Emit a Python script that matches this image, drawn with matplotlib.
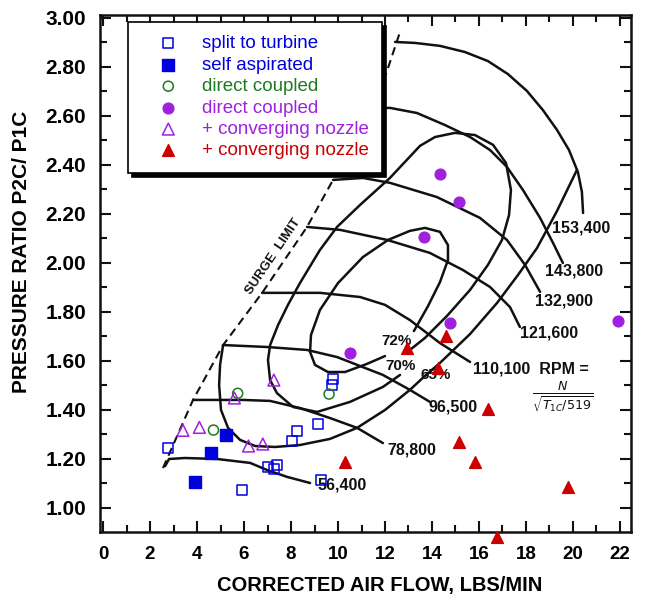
import matplotlib
matplotlib.use('Agg')
import matplotlib.pyplot as plt
from matplotlib.ticker import MultipleLocator

plt.rcParams['font.family'] = ['Liberation Sans', 'DejaVu Sans']

# --- measured points (corrected air flow lbs/min, pressure ratio) ---
split_x = [2.75, 8.26, 8.06, 9.13, 7.04, 7.26, 7.40, 5.93, 9.28, 9.80, 9.76]
split_y = [1.244, 1.314, 1.273, 1.343, 1.166, 1.158, 1.176, 1.072, 1.114, 1.528, 1.501]

selfasp_x = [5.23, 4.61, 3.93]
selfasp_y = [1.297, 1.223, 1.105]

direct_open_x = [5.73, 4.70, 9.62]
direct_open_y = [1.468, 1.318, 1.465]

direct_fill_x = [10.51, 14.78, 21.93, 14.35, 15.13, 13.65]
direct_fill_y = [1.631, 1.756, 1.763, 2.363, 2.250, 2.105]

nozzle_open_x = [7.27, 5.59, 3.40, 4.10, 6.19, 6.80]
nozzle_open_y = [1.522, 1.449, 1.317, 1.329, 1.253, 1.261]

nozzle_fill_x = [12.94, 14.60, 14.25, 16.38, 15.13, 15.82, 10.30, 19.80, 16.75]
nozzle_fill_y = [1.652, 1.700, 1.570, 1.405, 1.268, 1.189, 1.189, 1.087, 0.883]

# --- compressor map ---
surge_x = [2.55, 3.83, 5.11, 6.77, 8.68, 9.79, 10.94, 12.00, 12.64]
surge_y = [1.163, 1.441, 1.665, 1.878, 2.147, 2.339, 2.551, 2.759, 2.943]

speed_labels = ['56,400', '78,800', '96,500', '110,100  RPM =',
                '121,600', '132,900', '143,800', '153,400']
speed_x = [
    [2.64, 2.81, 3.49, 4.85, 6.26, 6.98, 7.83, 8.81],
    [3.83, 5.96, 7.11, 8.38, 9.66, 10.81, 11.91],
    [5.11, 6.98, 8.68, 9.96, 11.91, 13.06, 13.91],
    [6.77, 9.23, 10.94, 12.00, 13.06, 14.34, 15.62],
    [8.68, 10.09, 12.09, 13.91, 15.32, 16.47, 17.32, 17.74],
    [9.79, 11.06, 12.21, 14.21, 16.04, 17.19, 17.96, 18.60],
    [11.32, 12.21, 13.36, 14.55, 15.62, 16.47, 17.19, 17.87, 18.60, 19.15, 19.57],
    [12.43, 13.28, 14.34, 15.40, 16.38, 17.23, 18.04, 18.72, 19.32, 19.83, 20.21, 20.38, 20.43],
]
speed_y = [
    [1.171, 1.200, 1.204, 1.200, 1.184, 1.155, 1.127, 1.102],
    [1.441, 1.441, 1.437, 1.408, 1.367, 1.327, 1.265],
    [1.665, 1.657, 1.645, 1.616, 1.543, 1.482, 1.433],
    [1.878, 1.878, 1.861, 1.829, 1.767, 1.673, 1.596],
    [2.147, 2.135, 2.094, 2.041, 1.971, 1.902, 1.820, 1.739],
    [2.339, 2.347, 2.327, 2.269, 2.184, 2.094, 1.992, 1.882],
    [2.629, 2.633, 2.612, 2.563, 2.514, 2.461, 2.392, 2.298, 2.184, 2.082, 2.000],
    [2.902, 2.898, 2.886, 2.861, 2.824, 2.771, 2.702, 2.624, 2.543, 2.461, 2.371, 2.290, 2.204],
]
speed_label_x = [9.11, 12.09, 13.87, 15.74, 17.74, 18.38, 18.81, 19.11]
speed_label_y = [1.094, 1.237, 1.412, 1.567, 1.714, 1.845, 1.967, 2.143]

eff72_x = [13.23, 13.83, 14.34, 14.68, 14.68, 14.34, 13.70, 13.06, 12.13, 11.06,
           10.00, 9.23, 8.85, 8.81, 9.02, 9.57, 10.30, 11.23, 12.00]
eff72_y = [1.722, 1.824, 1.922, 2.012, 2.073, 2.127, 2.143, 2.131, 2.094, 2.024,
           1.918, 1.808, 1.706, 1.637, 1.584, 1.555, 1.555, 1.588, 1.620]

eff70_x = [13.06, 13.70, 14.64, 15.62, 16.38, 16.98, 17.28, 17.36, 17.15, 16.60,
           15.83, 14.98, 14.13, 13.49, 12.21, 10.94, 9.96, 9.23, 8.38, 7.87,
           7.45, 7.11, 7.02, 7.11, 7.40, 8.09, 9.11, 10.51, 11.91, 12.64]
eff70_y = [1.645, 1.694, 1.784, 1.890, 1.992, 2.094, 2.196, 2.298, 2.408, 2.482,
           2.522, 2.531, 2.514, 2.478, 2.347, 2.237, 2.147, 2.053, 1.918, 1.829,
           1.747, 1.665, 1.604, 1.522, 1.469, 1.412, 1.392, 1.433, 1.494, 1.543]

eff65_x = [5.11, 4.98, 4.94, 5.02, 5.32, 5.83, 6.47, 7.32, 8.38, 9.66, 10.81,
           12.00, 13.06, 13.70, 14.34, 15.62, 16.77, 17.66, 18.47, 19.32, 20.17]
eff65_y = [1.665, 1.584, 1.502, 1.400, 1.327, 1.278, 1.253, 1.249, 1.257, 1.282, 1.327,
           1.400, 1.482, 1.539, 1.592, 1.710, 1.837, 1.951, 2.061, 2.212, 2.380]

eff_labels = ['72%', '70%', '65%']
eff_label_x = [12.51, 12.68, 14.17]
eff_label_y = [1.682, 1.580, 1.543]

blue = '#0000DD'
green = '#1E7A1E'
purple = '#A020E0'
red = '#CC0000'

fig = plt.figure(figsize=(6.45, 6.01), dpi=100)
ax = fig.add_axes([100 / 645, 69 / 601, 531 / 645, 517 / 601])
ax.set_xlim(-0.13, 22.47)
ax.set_ylim(0.902, 3.012)

# map lines
line_kw = dict(color='#111111', lw=1.8, solid_joinstyle='round',
               solid_capstyle='round', zorder=2)
ax.plot(surge_x, surge_y, color='#111111', lw=1.5, ls=(0, (4, 2.5)), zorder=2)
for xs, ys in zip(speed_x, speed_y):
    ax.plot(xs, ys, **line_kw)
ax.plot(eff72_x, eff72_y, **line_kw)
ax.plot(eff70_x, eff70_y, **line_kw)
ax.plot(eff65_x, eff65_y, **line_kw)

lab_kw = dict(fontsize=11.5, fontweight='bold', color='#111111', zorder=3)
for lab, lx, ly in zip(speed_labels, speed_label_x, speed_label_y):
    ax.text(lx, ly, lab, ha='left', va='center', **lab_kw)
for lab, lx, ly in zip(eff_labels, eff_label_x, eff_label_y):
    ax.text(lx, ly, lab, ha='center', va='center', fontsize=11,
            fontweight='bold', color='#111111', zorder=3)
ax.text(19.57, 1.453, r'$\frac{N}{\sqrt{T_{1C}/519}}$', ha='center', va='center',
        fontsize=13, color='#111111', zorder=3)
ax.text(7.23, 2.024, 'SURGE  LIMIT', rotation=56, ha='center', va='center',
        fontsize=9.5, fontweight='bold', color='#111111', zorder=3)

# measured points
ax.scatter(split_x, split_y, s=52, marker='s', facecolors='none', edgecolors=blue,
           linewidths=1.1, label='split to turbine', zorder=4, clip_on=False)
ax.scatter(selfasp_x, selfasp_y, s=64, marker='s', color=blue,
           label='self aspirated', zorder=4, clip_on=False)
ax.scatter(direct_open_x, direct_open_y, s=52, marker='o', facecolors='none',
           edgecolors=green, linewidths=1.1, label='direct coupled', zorder=4, clip_on=False)
ax.scatter(direct_fill_x, direct_fill_y, s=60, marker='o', color=purple,
           label='direct coupled', zorder=4, clip_on=False)
ax.scatter(nozzle_open_x, nozzle_open_y, s=72, marker='^', facecolors='none',
           edgecolors=purple, linewidths=1.1, label='+ converging nozzle', zorder=4, clip_on=False)
ax.scatter(nozzle_fill_x, nozzle_fill_y, s=72, marker='^', color=red,
           label='+ converging nozzle', zorder=4, clip_on=False)

leg = ax.legend(loc='upper left', bbox_to_anchor=(0.0527, 0.9865), borderaxespad=0,
                fontsize=13.5, frameon=True, fancybox=False, framealpha=1,
                edgecolor='black', borderpad=0.7, labelspacing=0.23,
                handlelength=2.9, handletextpad=0.35,
                shadow={'ox': 3, 'oy': -3, 'color': 'black', 'alpha': 1})
leg.get_frame().set_linewidth(1.2)
leg.set_zorder(10)
for txt, col in zip(leg.get_texts(), [blue, blue, green, purple, purple, red]):
    txt.set_color(col)

# axes frame and ticks
for sp in ax.spines.values():
    sp.set_linewidth(1.8)
    sp.set_color('#111111')
ax.xaxis.set_major_locator(MultipleLocator(2))
ax.xaxis.set_minor_locator(MultipleLocator(1))
ax.yaxis.set_major_locator(MultipleLocator(0.2))
ax.yaxis.set_minor_locator(MultipleLocator(0.1))
ax.tick_params(which='both', direction='in', top=True, right=True,
               width=1.5, color='#111111')
ax.tick_params(which='major', length=8)
ax.tick_params(which='minor', length=5)
ax.tick_params(axis='x', pad=10, labelsize=13.5)
ax.tick_params(axis='y', pad=10, labelsize=15)
ax.set_xticks(range(0, 23, 2))
ax.set_xticklabels([str(v) for v in range(0, 23, 2)], fontweight='bold')
ax.set_yticks([1.0 + 0.2 * i for i in range(11)])
ax.set_yticklabels(['%.2f' % (1.0 + 0.2 * i) for i in range(11)], fontweight='bold')

fig.text(380 / 645, 1 - 585 / 601, 'CORRECTED AIR FLOW, LBS/MIN', ha='center',
         va='center', fontsize=14.5, fontweight='bold')
fig.text(22 / 645, 1 - 252 / 601, 'PRESSURE RATIO P2C/ P1C', ha='center',
         va='center', rotation=90, fontsize=15, fontweight='bold')

fig.savefig('out.png', dpi=100)
